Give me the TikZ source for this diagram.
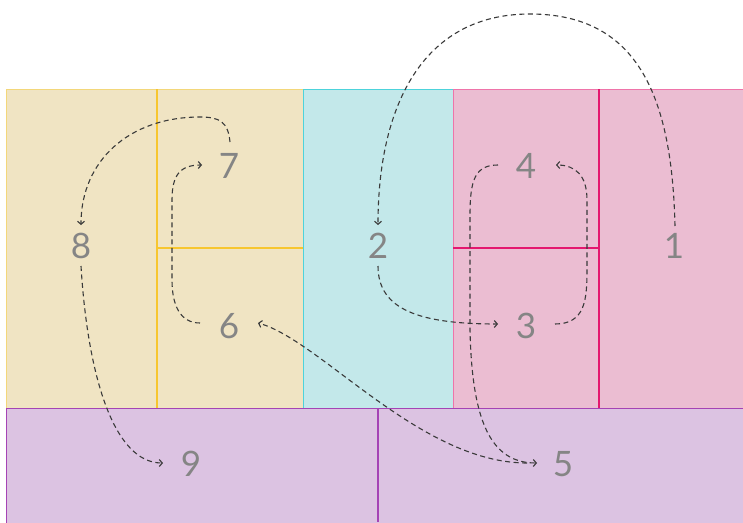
\documentclass[tikz,border=0pt]{standalone}
\usepackage{fontspec}
\setmainfont{Lato}
\usetikzlibrary{arrows.meta,calc}
\definecolor{yelfill}{HTML}{F0E4C3}
\definecolor{yelline}{HTML}{F7C62F}
\definecolor{yeledge}{HTML}{F3D77A}
\definecolor{cyfill}{HTML}{C3E8EA}
\definecolor{cyline}{HTML}{4DD3DB}
\definecolor{pkfill}{HTML}{EBBDD2}
\definecolor{pkline}{HTML}{E4176F}
\definecolor{pufill}{HTML}{DCC3E2}
\definecolor{puline}{HTML}{A543B5}
\definecolor{numgray}{HTML}{858585}
\definecolor{arrgray}{HTML}{3A3A3A}
\begin{document}
\begin{tikzpicture}[x=1pt,y=-1pt,
  num/.style={font=\fontsize{35}{35}\selectfont, text=numgray, inner sep=0pt, text height=25pt, text depth=0pt},
  flow/.style={draw=arrgray, dash pattern=on 5pt off 3.5pt, line width=1.1pt, -{Straight Barb[length=3pt,width=7pt]}},
  divider/.style={line width=1.3pt}]
\fill[white] (0,0) rectangle (743,522);
\useasboundingbox (0,0) rectangle (743,522);
% regions
\filldraw[fill=yelfill, draw=yeledge, line width=1pt] (6,89) rectangle (303,408);
\filldraw[fill=cyfill, draw=cyline, line width=1pt] (303,89) rectangle (453,408);
\filldraw[fill=pkfill, draw=pkline!60, line width=1pt] (453,89) rectangle (745,408);
\filldraw[fill=pufill, draw=puline, line width=1pt] (6,408) rectangle (745,525);
\draw[divider, yelline] (157,89) -- (157,408);
\draw[divider, yelline] (157,248) -- (303,248);
\draw[divider, pkline] (599,89) -- (599,408);
\draw[divider, pkline] (453,248) -- (599,248);
\draw[divider, puline] (378,408) -- (378,522);
\draw[line width=1pt, cyline] (303,89) -- (303,408);
% numbers
\node[num] (n1) at (674,246) {1};
\node[num] (n2) at (378,246) {2};
\node[num] (n3) at (526,326) {3};
\node[num] (n4) at (526,166) {4};
\node[num] (n5) at (563,464) {5};
\node[num] (n6) at (229,326) {6};
\node[num] (n7) at (229,166) {7};
\node[num] (n8) at (81,246) {8};
\node[num] (n9) at (191,464) {9};
% flows
\draw[flow] ($(n1)+(1,-20)$) .. controls (672,100) and (640,14) .. (530,14)
   .. controls (420,14) and ($(n2)+(0,-136)$) .. ($(n2)+(0,-21)$);
\draw[flow] ($(n2)+(0,20)$) .. controls (378,310) and (420,324) .. ($(n3)+(-28,-2)$);
\draw[flow] ($(n3)+(29,-2)$) .. controls (585,324) and (587,300) .. (587,270) -- (587,200)
   .. controls (587,175) and (575,165) .. ($(n4)+(30,-1)$);
\draw[flow] ($(n4)+(-28,-1)$) .. controls (475,165) and (470,180) .. (470,215) -- (470,330)
   .. controls (472,420) and (490,463) .. ($(n5)+(-26,-1)$);
\draw[flow] ($(n5)+(-36,-1)$) .. controls (420,463) and (320,340) .. ($(n6)+(29,-3)$);
\draw[flow] ($(n6)+(-29,-3)$) .. controls (180,323) and (172,305) .. (172,280) -- (172,200)
   .. controls (172,175) and (180,165) .. ($(n7)+(-27,-1)$);
\draw[flow] ($(n7)+(1,-24)$) .. controls (228,122) and (220,117) .. (200,117)
   .. controls (130,117) and (81,160) .. ($(n8)+(0,-21)$);
\draw[flow] ($(n8)+(0,20)$) .. controls (88,380) and (115,463) .. ($(n9)+(-28,-1)$);
\end{tikzpicture}
\end{document}
